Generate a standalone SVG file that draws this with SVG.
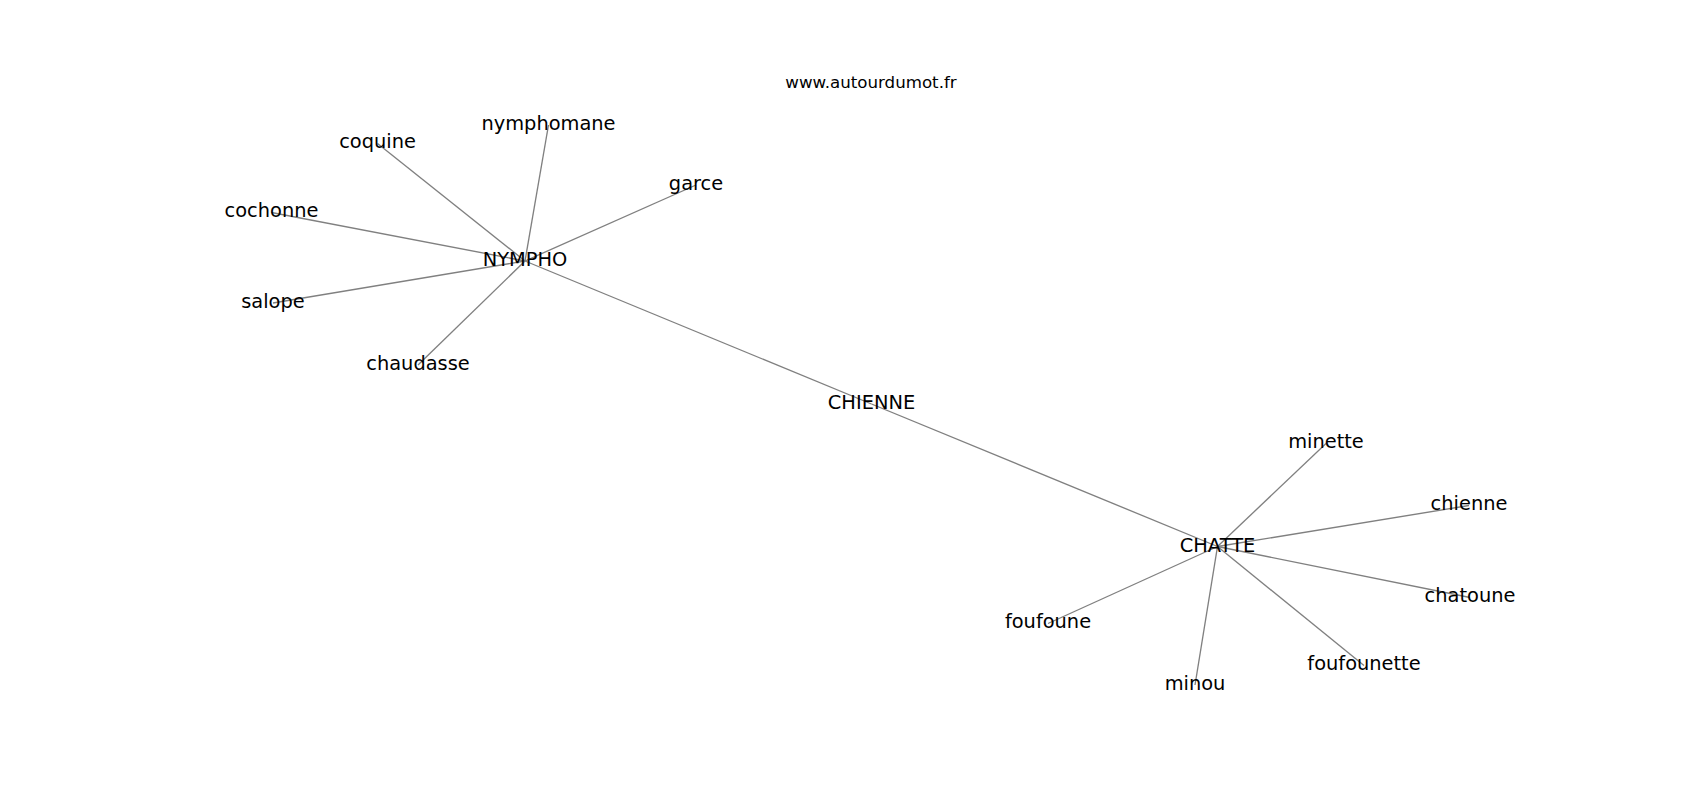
<svg xmlns="http://www.w3.org/2000/svg" width="1700" height="800" viewBox="0 0 1700 800">
<style>
.bg{fill:#ffffff}
.e{stroke:#808080;stroke-width:1.35;fill:none}
.lbl{font-family:"DejaVu Sans","Noto Sans",sans-serif;font-size:19.4px;fill:#000000;text-anchor:middle}
.title{font-family:"DejaVu Sans","Noto Sans",sans-serif;font-size:16.67px;fill:#000000;text-anchor:middle}
</style>
<rect class="bg" x="0" y="0" width="1700" height="800"/>
<text class="title" x="871" y="87.5">www.autourdumot.fr</text>
<g id="edges">
<line class="e" x1="525" y1="261" x2="377.5" y2="143.5"/>
<line class="e" x1="525" y1="261" x2="548.5" y2="125"/>
<line class="e" x1="525" y1="261" x2="696" y2="185"/>
<line class="e" x1="525" y1="261" x2="271.5" y2="212.5"/>
<line class="e" x1="525" y1="261" x2="273" y2="303"/>
<line class="e" x1="525" y1="261" x2="418" y2="365"/>
<line class="e" x1="525" y1="261" x2="871.5" y2="404"/>
<line class="e" x1="871.5" y1="404" x2="1217.5" y2="546.5"/>
<line class="e" x1="1217.5" y1="546.5" x2="1326" y2="443.5"/>
<line class="e" x1="1217.5" y1="546.5" x2="1469" y2="505.5"/>
<line class="e" x1="1217.5" y1="546.5" x2="1470" y2="597.5"/>
<line class="e" x1="1217.5" y1="546.5" x2="1364" y2="665.5"/>
<line class="e" x1="1217.5" y1="546.5" x2="1195" y2="685"/>
<line class="e" x1="1217.5" y1="546.5" x2="1048" y2="623.5"/>
</g>
<g id="node-NYMPHO"><text class="lbl" x="525" y="266">NYMPHO</text></g>
<g id="node-coquine"><text class="lbl" x="377.5" y="148">coquine</text></g>
<g id="node-nymphomane"><text class="lbl" x="548.5" y="129.5">nymphomane</text></g>
<g id="node-garce"><text class="lbl" x="696" y="189.5">garce</text></g>
<g id="node-cochonne"><text class="lbl" x="271.5" y="217">cochonne</text></g>
<g id="node-salope"><text class="lbl" x="273" y="308">salope</text></g>
<g id="node-chaudasse"><text class="lbl" x="418" y="369.5">chaudasse</text></g>
<g id="node-CHIENNE"><text class="lbl" x="871.5" y="409">CHIENNE</text></g>
<g id="node-CHATTE"><text class="lbl" x="1217.5" y="551.5">CHATTE</text></g>
<g id="node-minette"><text class="lbl" x="1326" y="448">minette</text></g>
<g id="node-chienne"><text class="lbl" x="1469" y="510">chienne</text></g>
<g id="node-chatoune"><text class="lbl" x="1470" y="602">chatoune</text></g>
<g id="node-foufounette"><text class="lbl" x="1364" y="670">foufounette</text></g>
<g id="node-minou"><text class="lbl" x="1195" y="689.5">minou</text></g>
<g id="node-foufoune"><text class="lbl" x="1048" y="628">foufoune</text></g>
</svg>
